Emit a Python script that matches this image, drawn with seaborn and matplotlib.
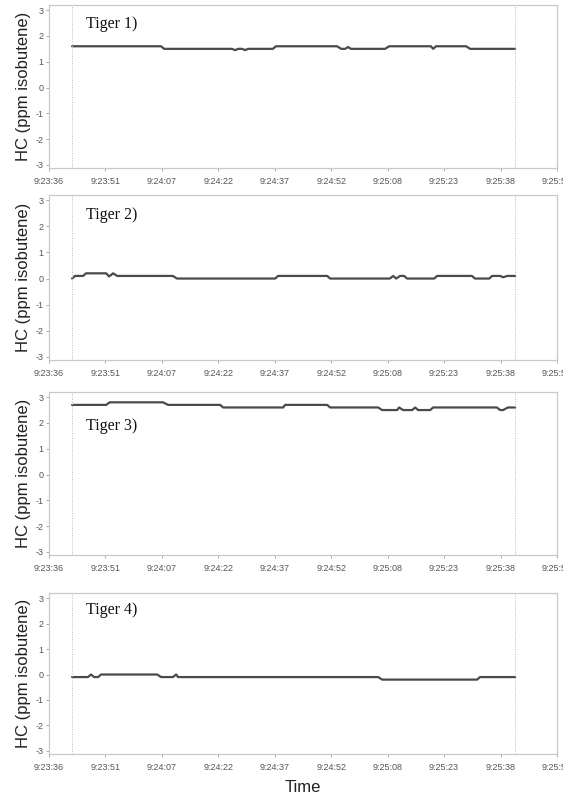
import matplotlib
matplotlib.use("Agg")
import matplotlib.pyplot as plt
import seaborn as sns
import pandas as pd

# time in seconds after 9:23:36
tick_labels = ["9:23:36", "9:23:51", "9:24:07", "9:24:22", "9:24:37",
               "9:24:52", "9:25:08", "9:25:23", "9:25:38", "9:25:53"]
tick_step = 15.4
panel_names = ["Tiger 1)", "Tiger 2)", "Tiger 3)", "Tiger 4)"]
label_y = [2.46, 2.43, 1.88, 2.55]

t1 = [6.3, 30.6, 31.4, 49.9, 50.8, 51.6, 52.7, 53.5, 54.3, 61.1, 61.9, 78.6,
      79.7, 80.8, 81.6, 82.4, 91.7, 92.8, 104.2, 104.8, 105.6, 113.8, 114.9, 127.2]
v1 = [1.6, 1.6, 1.5, 1.5, 1.45, 1.5, 1.5, 1.45, 1.5, 1.5, 1.6, 1.6,
      1.5, 1.5, 1.57, 1.5, 1.5, 1.6, 1.6, 1.5, 1.6, 1.6, 1.5, 1.5]

t2 = [6.3, 7.1, 9.3, 10.1, 15.6, 16.4, 17.5, 18.6, 33.8, 34.9, 61.7, 62.5, 75.9,
      76.7, 93.0, 93.9, 94.7, 95.8, 96.9, 97.7, 105.1, 105.9, 115.4, 116.2,
      120.1, 120.9, 123.1, 123.9, 125.0, 127.2]
v2 = [0.0, 0.1, 0.1, 0.2, 0.2, 0.08, 0.2, 0.1, 0.1, 0.0, 0.0, 0.1, 0.1,
      0.0, 0.0, 0.1, 0.0, 0.1, 0.1, 0.0, 0.0, 0.1, 0.1, 0.0,
      0.0, 0.1, 0.1, 0.05, 0.1, 0.1]

t3 = [6.3, 15.6, 16.6, 31.1, 32.5, 46.7, 47.5, 63.9, 64.4, 75.9, 76.7, 89.8, 90.9,
      95.0, 95.5, 96.6, 99.1, 99.9, 100.7, 104.0, 104.8, 122.2, 123.1, 123.9,
      125.2, 127.2]
v3 = [2.7, 2.7, 2.8, 2.8, 2.7, 2.7, 2.6, 2.6, 2.7, 2.7, 2.6, 2.6, 2.5,
      2.5, 2.6, 2.5, 2.5, 2.6, 2.5, 2.5, 2.6, 2.6, 2.5, 2.5,
      2.6, 2.6]

t4 = [6.3, 10.6, 11.5, 12.3, 13.4, 14.2, 29.5, 30.6, 33.8, 34.7, 35.2, 89.8,
      90.9, 116.8, 117.6, 127.2]
v4 = [-0.1, -0.1, 0.0, -0.1, -0.1, 0.0, 0.0, -0.1, -0.1, 0.0, -0.1, -0.1,
      -0.2, -0.2, -0.1, -0.1]

series = [(t1, v1), (t2, v2), (t3, v3), (t4, v4)]

sns.set_theme(style="white")
plt.rcParams["font.family"] = ["Liberation Sans", "DejaVu Sans"]
plt.rcParams["axes.unicode_minus"] = False

fig = plt.figure(figsize=(5.63, 7.96), dpi=100)
left, width = 49 / 563, 508 / 563
boxes = [(5, 168), (195, 360), (392, 555), (593, 754)]  # top, bottom px

ticks = [i * tick_step for i in range(len(tick_labels))]
spine_c = "#c8c8c8"
for i, ((t, v), (top, bot)) in enumerate(zip(series, boxes)):
    ax = fig.add_axes([left, 1 - bot / 796, width, (bot - top) / 796])
    df = pd.DataFrame({"t": t, "v": v})
    sns.lineplot(data=df, x="t", y="v", ax=ax, color="#4a4a4a", linewidth=1.6,
                 estimator=None, sort=False)
    ax.axvline(t[0], color="#bbbbbb", lw=0.7, ls=(0, (1, 1.5)))
    ax.axvline(t[-1], color="#bbbbbb", lw=0.7, ls=(0, (1, 1.5)))
    ax.set_xlim(0, ticks[-1])
    ax.set_ylim(-3.12, 3.2)
    ax.set_xticks(ticks)
    ax.set_xticklabels(tick_labels)
    ax.set_yticks(range(-3, 4))
    ax.tick_params(axis="both", which="both", direction="out", length=2.5,
                   width=0.7, color="#aaaaaa", labelsize=6.5,
                   labelcolor="#555555", bottom=True, left=True)
    ax.tick_params(axis="x", pad=4)
    ax.tick_params(axis="y", pad=1.5)
    for s in ax.spines.values():
        s.set_color(spine_c)
        s.set_linewidth(0.9)
    ax.set_xlabel("Time" if i == 3 else "", fontsize=12, color="#222222",
                  labelpad=6)
    ax.set_ylabel("HC (ppm isobutene)", fontsize=12, color="#222222",
                  labelpad=3)
    ax.text(10.0, label_y[i], panel_names[i], fontsize=11.5,
            family=["Liberation Serif", "DejaVu Serif"], color="#111111",
            ha="left", va="center")

fig.savefig("out.png", dpi=100)
